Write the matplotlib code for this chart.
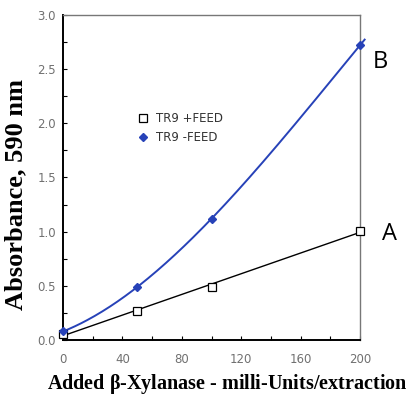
import matplotlib
matplotlib.use("Agg")
import matplotlib.pyplot as plt
import numpy as np
from matplotlib.ticker import MultipleLocator, FormatStrFormatter

# data
dose = [0, 50, 100, 200]
plus_feed = [0.06, 0.27, 0.49, 1.01]    # A, TR9 +FEED
minus_feed = [0.08, 0.49, 1.12, 2.72]   # B, TR9 -FEED

blue = '#2742b8'
grey = '#707070'

fig = plt.figure(figsize=(4.14, 3.96), dpi=100)
ax = fig.add_axes([0.152, 0.141, 0.718, 0.822])

# fitted curves
xf = np.linspace(0, 203, 200)
cb = np.polyfit(dose, minus_feed, 3)
ax.plot(xf, np.polyval(cb, xf), color=blue, lw=1.4, zorder=2, clip_on=False)
xa = np.linspace(0, 200, 50)
ca = np.polyfit(dose, plus_feed, 1)
ax.plot(xa, np.polyval(ca, xa), color='black', lw=1.0, zorder=2)

ax.plot(dose, plus_feed, ls='none', marker='s', ms=6, mfc='white', mec='black',
        mew=0.9, label='TR9 +FEED', zorder=3, clip_on=False)
ax.plot(dose, minus_feed, ls='none', marker='D', ms=4, mfc=blue, mec=blue,
        label='TR9 -FEED', zorder=4, clip_on=False)

ax.set_xlim(0, 200)
ax.set_ylim(0, 3.0)
ax.xaxis.set_major_locator(MultipleLocator(40))
ax.xaxis.set_minor_locator(MultipleLocator(20))
ax.yaxis.set_major_locator(MultipleLocator(0.5))
ax.yaxis.set_minor_locator(MultipleLocator(0.25))
ax.xaxis.set_major_formatter(FormatStrFormatter('%d'))
ax.yaxis.set_major_formatter(FormatStrFormatter('%.1f'))
ax.tick_params(which='both', direction='in', length=3, width=0.8,
               labelsize=8.5, labelcolor=grey, pad=5)
ax.tick_params(axis='x', pad=9)

for s in ['left', 'bottom']:
    ax.spines[s].set_color('black')
    ax.spines[s].set_linewidth(1.4)
for s in ['top', 'right']:
    ax.spines[s].set_color('#777777')
    ax.spines[s].set_linewidth(1.0)

fig.text(0.038, 0.51, 'Absorbance, 590 nm', family='Liberation Serif', fontweight='bold',
         fontsize=19, rotation=90, ha='center', va='center')
fig.text(0.55, 0.03, r'Added $\mathregular{\beta}$-Xylanase - milli-Units/extraction',
         family='Liberation Serif', fontweight='bold', fontsize=14.5, ha='center', va='center')

leg = ax.legend(loc='upper left', bbox_to_anchor=(0.235, 0.72), frameon=False,
                fontsize=8.5, handletextpad=0.7, borderpad=0, labelspacing=0.55,
                handlelength=0.8)
for t in leg.get_texts():
    t.set_color('#333333')

fig.text(0.918, 0.843, 'B', fontsize=17, family='Open Sans', ha='center', va='center')
fig.text(0.942, 0.41, 'A', fontsize=17, family='Open Sans', ha='center', va='center')

fig.savefig('out.png', dpi=100)
